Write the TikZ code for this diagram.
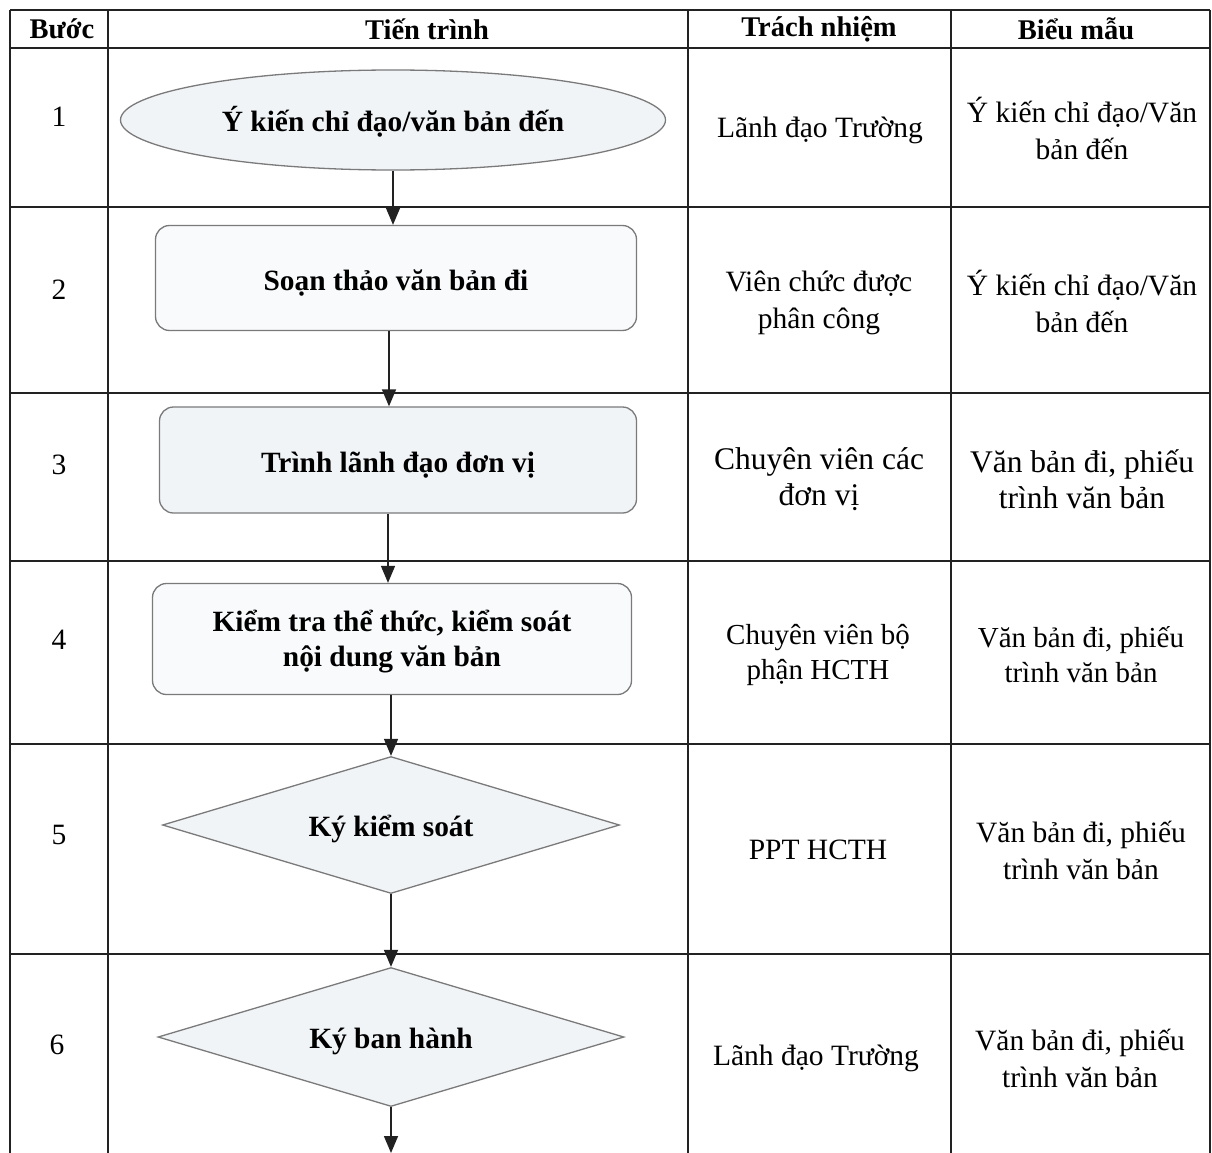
\documentclass[tikz,border=0pt]{standalone}
\usepackage{fontspec}
\setmainfont{Liberation Serif}
\usetikzlibrary{shapes.geometric,arrows.meta}
\definecolor{shapefill}{HTML}{F1F4F7}
\definecolor{shapefilllight}{HTML}{F8FAFB}
\definecolor{shapeline}{HTML}{7A7A7A}
\definecolor{gridline}{HTML}{222222}
\newcommand{\dropText}[2][4pt]{\raisebox{-#1}[\height][\depth]{#2}}
\begin{document}
\begin{tikzpicture}[x=1pt,y=-1pt,
  grid/.style={line width=1.5pt, draw=gridline},
  shapebase/.style={draw=shapeline, line width=1.3pt, fill=shapefill, inner sep=0pt, align=center,
    font=\fontsize{29.4}{35}\selectfont\bfseries},
  flowbox/.style={shapebase, rectangle, rounded corners=14pt},
  flowoval/.style={shapebase, ellipse},
  flowdia/.style={shapebase, diamond, aspect=3.3},
  flowarrow/.style={line width=1.5pt, draw=gridline, -{Triangle[length=17pt,width=14pt]}},
  head/.style={font=\fontsize{28.5}{30}\selectfont\bfseries, inner sep=0pt},
  cell/.style={font=\fontsize{29.5}{37}\selectfont, align=center, inner sep=0pt},
  cellbig/.style={font=\fontsize{31.5}{36}\selectfont, align=center, inner sep=0pt},
  cellmid/.style={font=\fontsize{29}{35}\selectfont, align=center, inner sep=0pt}
]
\useasboundingbox (0,0) rectangle (1212,1153);
\fill[white] (0,0) rectangle (1212,1153);

% grid
\draw[grid] (10,10) -- (1210,10);
\foreach \yy in {48,207,393,561,744,954}{
  \draw[grid] (10,\yy) -- (1210,\yy);
}
\foreach \xx in {10,108,688,951,1210}{
  \draw[grid] (\xx,10) -- (\xx,1153);
}

% header
\node[head] (hb) at (62,29) {Bước};
\node[head] (ht) at (427,29) {Tiến trình};
\node[head] (hr) at (819,29) {Trách nhiệm};
\node[head] (hm) at (1076,29) {Biểu mẫu};

% step numbers
\node[cell] (n1) at (59,117) {1};
\node[cell] (n2) at (59,290) {2};
\node[cell] (n3) at (59,465) {3};
\node[cell] (n4) at (59,640) {4};
\node[cell] (n5) at (59,835) {5};
\node[cell] (n6) at (57,1045) {6};

% flow shapes
\node[flowoval, minimum width=545pt, minimum height=100pt] (s1) at (393,120) {\dropText[2pt]{Ý kiến chỉ đạo/văn bản đến}};
\node[flowbox, fill=shapefilllight, minimum width=481pt, minimum height=105pt] (s2) at (396,278) {\dropText[5pt]{Soạn thảo văn bản đi}};
\node[flowbox, minimum width=477pt, minimum height=106pt] (s3) at (398,460) {\dropText[5pt]{Trình lãnh đạo đơn vị}};
\node[flowbox, fill=shapefilllight, minimum width=479pt, minimum height=111pt] (s4) at (392,639) {\dropText[3pt]{\begin{tabular}{@{}c@{}}Kiểm tra thể thức, kiểm soát\\nội dung văn bản\end{tabular}}};
\node[flowdia, minimum width=457pt, minimum height=137pt] (s5) at (391,825) {\dropText[4pt]{Ký kiểm soát}};
\node[flowdia, minimum width=466pt, minimum height=139pt] (s6) at (391,1037) {\dropText[4pt]{Ký ban hành}};
\coordinate (end) at (391,1153);

% connectors
\draw[flowarrow] (s1.south) -- (s2.north -| s1.south);
\draw[flowarrow] (s2.south -| 389,0) -- (s3.north -| 389,0);
\draw[flowarrow] (s3.south -| 388,0) -- (s4.north -| 388,0);
\draw[flowarrow] (s4.south -| s5.north) -- (s5.north);
\draw[flowarrow] (s5.south) -- (s6.north -| s5.south);
\draw[flowarrow] (s6.south) -- (end);

% responsibility column
\node[cell] (r1) at (820,130) {Lãnh đạo Trường};
\node[cell] (r2) at (819,303) {Viên chức được\\phân công};
\node[cellbig] (r3) at (819,479) {Chuyên viên các\\đơn vị};
\node[cellmid] (r4) at (818,655) {Chuyên viên bộ\\phận HCTH};
\node[cell] (r5) at (818,850) {PPT HCTH};
\node[cell] (r6) at (816,1058) {Lãnh đạo Trường};

% form column
\node[cell] (m1) at (1082,128) {Ý kiến chỉ đạo/Văn\\bản đến};
\node[cell] (m2) at (1082,301) {Ý kiến chỉ đạo/Văn\\bản đến};
\node[cellbig] (m3) at (1082,479) {Văn bản đi, phiếu\\trình văn bản};
\node[cellmid] (m4) at (1081,655) {Văn bản đi, phiếu\\trình văn bản};
\node[cell] (m5) at (1081,850) {Văn bản đi, phiếu\\trình văn bản};
\node[cell] (m6) at (1080,1058) {Văn bản đi, phiếu\\trình văn bản};
\end{tikzpicture}
\end{document}
